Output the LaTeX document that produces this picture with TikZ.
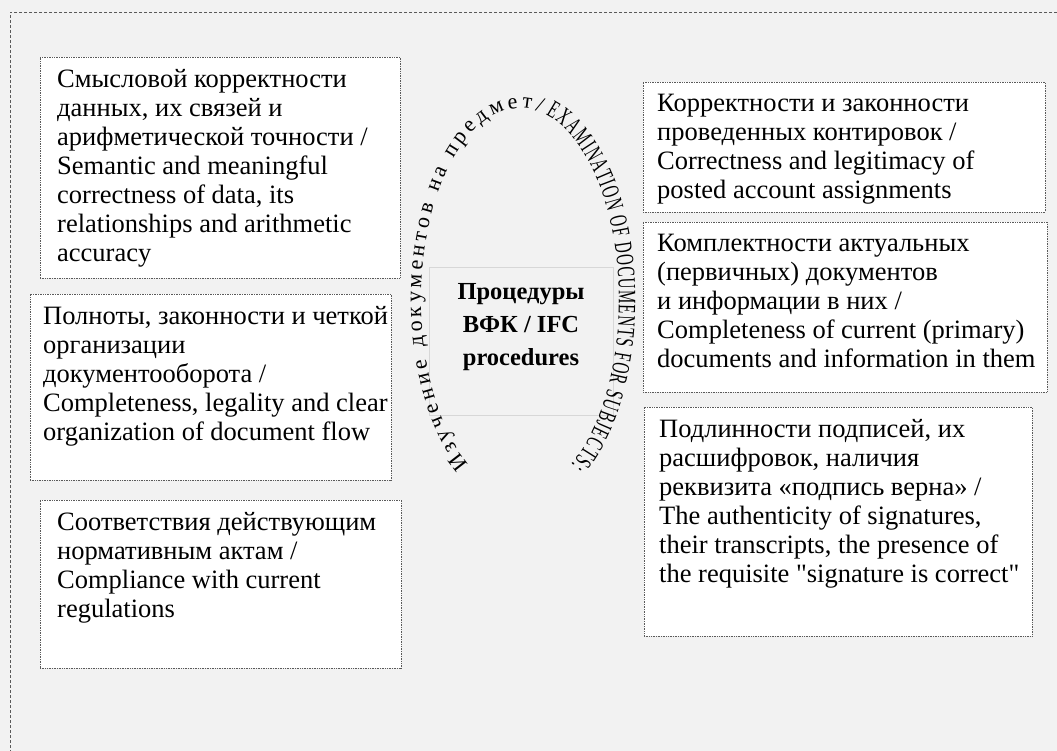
\documentclass[tikz,border=0pt]{standalone}
\usepackage{fontspec}
\setmainfont{Liberation Serif}
\newfontfamily\arcfont{Liberation Serif}
\newfontfamily\arcfontnarrow[FakeStretch=0.6]{Liberation Serif}
\usepackage{tikz}
\usetikzlibrary{positioning, decorations.text}
\definecolor{pagegray}{HTML}{F2F2F2}
\definecolor{framegray}{RGB}{90, 90, 90}
\definecolor{centreline}{RGB}{215, 215, 215}

\begin{document}
\begin{tikzpicture}[x=1pt, y=-1pt,
    infobox/.style={draw=framegray, densely dotted, line width=0.7pt, fill=white,
                    anchor=north west, inner sep=0pt, outer sep=0pt},
    boxtext/.style={anchor=north west, inner sep=0pt, align=left,
                    font=\fontsize{26.5}{29}\selectfont}]
  \fill[pagegray] (0,0) rectangle (1057,751);
  \useasboundingbox (0,0) rectangle (1057,751);
  \draw[framegray, dash pattern=on 3pt off 2pt, line width=0.6pt]
        (1057,12) -- (10,12) -- (10,751);

  % left column
  \node[infobox, minimum width=360pt, minimum height=221pt] (semantics) at (40,57) {};
  \node[boxtext, below right=10pt and 17pt of semantics.north west] (semanticstext)
        {\strut Смысловой корректности\\данных, их связей и\\арифметической точности /\\
         Semantic and meaningful\\correctness of data, its\\relationships and arithmetic\\accuracy};
  \node[infobox, minimum width=361pt, minimum height=186pt] (docflow) at (30,294) {};
  \node[boxtext, below right=10pt and 13pt of docflow.north west] (docflowtext)
        {\strut Полноты, законности и четкой\\организации\\документооборота /\\
         Completeness, legality and clear\\organization of document flow};
  \node[infobox, minimum width=361pt, minimum height=168pt] (compliance) at (40,500) {};
  \node[boxtext, below right=10pt and 17pt of compliance.north west] (compliancetext)
        {\strut Соответствия действующим\\нормативным актам /\\Compliance with current\\regulations};

  % right column
  \node[infobox, minimum width=402pt, minimum height=130pt] (postings) at (643,82) {};
  \node[boxtext, below right=9pt and 14pt of postings.north west] (postingstext)
        {\strut Корректности и законности\\проведенных контировок /\\
         Correctness and legitimacy of\\posted account assignments};
  \node[infobox, minimum width=404pt, minimum height=170pt] (primarydocs) at (643,222) {};
  \node[boxtext, below right=9pt and 14pt of primarydocs.north west] (primarydocstext)
        {\strut Комплектности актуальных\\(первичных) документов\\и информации в них /\\
         Completeness of current (primary)\\documents and information in them};
  \node[infobox, minimum width=388pt, minimum height=229pt] (signatures) at (644,407) {};
  \node[boxtext, below right=10pt and 15pt of signatures.north west] (signaturestext)
        {\strut Подлинности подписей, их\\расшифровок, наличия\\реквизита «подпись верна» /\\
         The authenticity of signatures,\\their transcripts, the presence of\\
         the requisite \textquotedbl signature is correct\textquotedbl};

  % centre
  \node[draw=centreline, line width=1pt, fill=pagegray, anchor=north west,
        minimum width=184pt, minimum height=148pt, inner sep=0pt] (ifc) at (429,267) {};
  \node[anchor=north, inner sep=0pt, align=center,
        font=\bfseries\fontsize{24.5}{33}\selectfont] (ifctext) at (521,276)
        {\strut Процедуры\\ВФК / IFC\\procedures};

  % arched caption
  \path[decorate, decoration={text along path, text align={fit to path},
        text={|\arcfont\fontsize{22}{22}\selectfont|Изучение документов на предмет/}}]
        plot[domain=121:282, samples=90] ({520+99*cos(\x)}, {300+192*sin(\x)});
  \path[decorate, decoration={text along path, text align={fit to path},
        text={|\arcfontnarrow\fontsize{25}{25}\selectfont|EXAMINATION OF DOCUMENTS FOR SUBJECTS:}}]
        plot[domain=285:419, samples=90] ({520+99*cos(\x)}, {300+192*sin(\x)});
\end{tikzpicture}
\end{document}
